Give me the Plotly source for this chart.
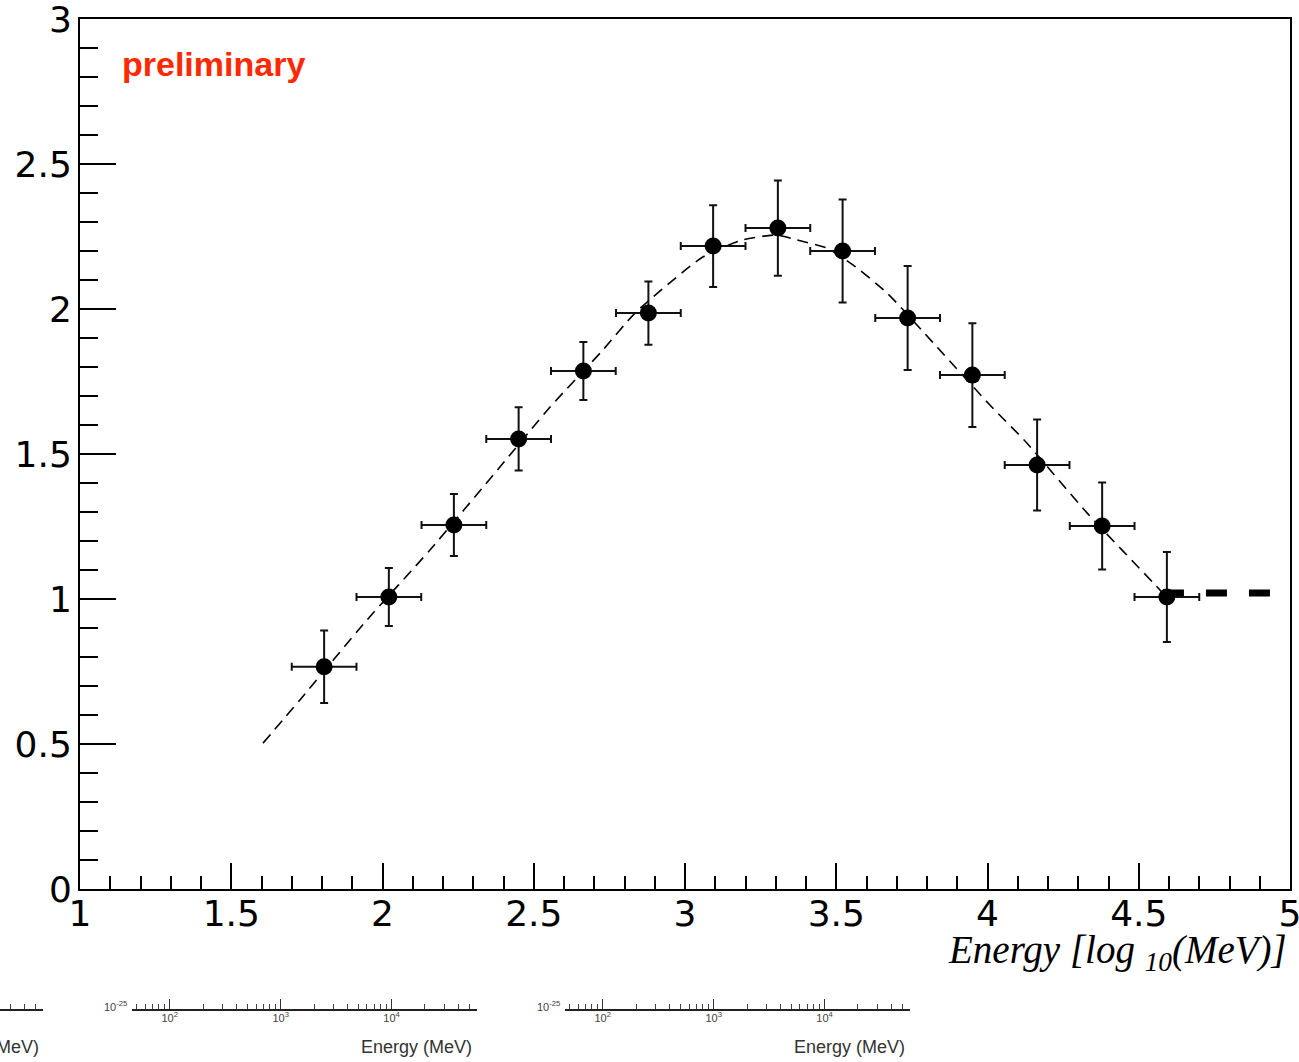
import plotly.graph_objects as go

# ---- data ----
energy_log = [1.807, 2.021, 2.236, 2.450, 2.664, 2.879, 3.093, 3.307, 3.521, 3.736, 3.950, 4.164, 4.379, 4.593]
flux = [0.766, 1.007, 1.255, 1.552, 1.786, 1.986, 2.217, 2.279, 2.200, 1.969, 1.772, 1.462, 1.252, 1.007]
flux_err = [0.125, 0.100, 0.107, 0.109, 0.100, 0.109, 0.141, 0.164, 0.178, 0.179, 0.179, 0.157, 0.150, 0.155]
bin_halfwidth = [0.107] * 14

fit_x = [1.605, 1.727, 1.949, 2.157, 2.388, 2.554, 2.729, 2.835, 3.060, 3.190, 3.304, 3.370,
         3.469, 3.555, 3.668, 3.833, 4.008, 4.130, 4.329, 4.570, 4.595]
fit_y = [0.503, 0.652, 0.928, 1.169, 1.455, 1.662, 1.859, 1.986, 2.180, 2.238, 2.255, 2.238,
         2.210, 2.152, 2.055, 1.869, 1.669, 1.538, 1.297, 1.031, 1.000]

limit_x = [4.58, 5.0]
limit_y = [1.021, 1.021]

x_ticks = [1, 1.5, 2, 2.5, 3, 3.5, 4, 4.5, 5]
x_ticktext = ["1", "1.5", "2", "2.5", "3", "3.5", "4", "4.5", "5"]
y_ticks = [0, 0.5, 1, 1.5, 2, 2.5, 3]
y_ticktext = ["0", "0.5", "1", "1.5", "2", "2.5", "3"]

frag_major = [100, 1000, 10000]
frag_major_text = ["10<sup>2</sup>", "10<sup>3</sup>", "10<sup>4</sup>"]
frag_minor = [m * d for d in [10, 100, 1000, 10000] for m in range(2, 10)]

W, H = 1299, 1062
ML, MR, MT, MB = 0, 9, 19, 5
PW = W - ML - MR
PH = H - MT - MB

def px_x(p):
    return (p - ML) / PW

def px_y(p):
    return (H - MB - p) / PH

fig = go.Figure()

fig.add_trace(go.Scatter(
    x=fit_x, y=fit_y, mode="lines",
    line=dict(color="black", width=1.6, dash="11px,7px", shape="spline", smoothing=0.6),
    hoverinfo="skip", showlegend=False))

fig.add_trace(go.Scatter(
    x=limit_x, y=limit_y, mode="lines",
    line=dict(color="black", width=7, dash="21px,22px"),
    hoverinfo="skip", showlegend=False))

fig.add_trace(go.Scatter(
    x=energy_log, y=flux, mode="markers",
    marker=dict(color="black", size=17),
    error_y=dict(type="data", array=flux_err, color="#111", thickness=2, width=4),
    error_x=dict(type="data", array=bin_halfwidth, color="#111", thickness=2, width=4),
    showlegend=False))

axis_common = dict(showline=True, linewidth=2, linecolor="black", mirror=True,
                   showgrid=False, zeroline=False, ticks="inside", tickwidth=2,
                   tickcolor="black", automargin=False, ticklabeloverflow="allow",
                   tickfont=dict(family="DejaVu Sans", size=36, color="black"))

# fragment axes at the bottom (remnants of other plots)
frag_domains = {"x2": [px_x(132), px_x(477)], "x3": [px_x(565), px_x(910)], "x4": [0, px_x(43)]}
frag_ranges = {"x2": [1.66, 4.77], "x3": [1.66, 4.77], "x4": [4.38, 4.77]}

layout = dict(
    width=W, height=H,
    margin=dict(l=ML, r=MR, t=MT, b=MB, autoexpand=False),
    paper_bgcolor="white", plot_bgcolor="white",
    showlegend=False,
    xaxis=dict(range=[1, 5], domain=[px_x(80), 1.0], anchor="y",
               tickvals=x_ticks, ticktext=x_ticktext, ticklen=26, ticklabelstandoff=-8,
               minor=dict(ticks="inside", ticklen=13, tickwidth=2, tickcolor="black", dtick=0.1, tick0=0),
               **axis_common),
    yaxis=dict(range=[0, 3], domain=[px_y(889), 1.0], anchor="x",
               tickvals=y_ticks, ticktext=y_ticktext, ticklen=36, ticklabelstandoff=-1,
               minor=dict(ticks="inside", ticklen=18, tickwidth=2, tickcolor="black", dtick=0.1, tick0=0),
               **axis_common),
)

for i, key in enumerate(["x2", "x3", "x4"], start=2):
    ykey = "y%d" % i
    layout["xaxis%d" % i] = dict(
        type="log", range=frag_ranges[key], domain=frag_domains[key], anchor=ykey,
        showline=True, linewidth=1.5, linecolor="#222", showgrid=False, zeroline=False,
        ticks="inside", ticklen=10, tickwidth=1.2, tickcolor="#333", automargin=False,
        tickvals=frag_major, ticktext=frag_major_text, ticklabelstandoff=-2,
        tickfont=dict(family="Liberation Sans", size=11, color="#444"),
        minor=dict(ticks="inside", ticklen=5, tickwidth=1.2, tickcolor="#444", tickvals=frag_minor),
    )
    layout["yaxis%d" % i] = dict(domain=[px_y(1009), px_y(995)], anchor="x%d" % i,
                                 range=[0, 1], visible=False, automargin=False)

fig.update_layout(**layout)

# invisible dummy traces so the fragment axes are drawn
for i in [2, 3, 4]:
    fig.add_trace(go.Scatter(x=[1e5], y=[-1], xaxis="x%d" % i, yaxis="y%d" % i,
                             mode="markers", marker=dict(opacity=0), hoverinfo="skip",
                             showlegend=False))

frag_font = dict(family="Liberation Sans", size=18, color="#333")
annotations = [
    dict(text="preliminary", x=1.132, y=2.845, xref="x", yref="y",
         xanchor="left", yanchor="middle", showarrow=False,
         font=dict(family="Liberation Sans", size=34, color="rgb(255,40,0)", weight="bold")),
    dict(text="<i>Energy [log <sub>10</sub>(MeV)]</i>", x=px_x(1289), y=px_y(926),
         xref="paper", yref="paper", xanchor="right", yanchor="top", showarrow=False,
         font=dict(family="Liberation Serif", size=39, color="black")),
    dict(text="10<sup>-25</sup>", x=px_x(129), y=px_y(1006), xref="paper", yref="paper",
         xanchor="right", yanchor="middle", showarrow=False,
         font=dict(family="Liberation Sans", size=11, color="#444")),
    dict(text="10<sup>-25</sup>", x=px_x(562), y=px_y(1006), xref="paper", yref="paper",
         xanchor="right", yanchor="middle", showarrow=False,
         font=dict(family="Liberation Sans", size=11, color="#444")),
    dict(text="Energy (MeV)", x=px_x(474), y=px_y(1047), xref="paper", yref="paper",
         xanchor="right", yanchor="middle", showarrow=False, font=frag_font),
    dict(text="Energy (MeV)", x=px_x(907), y=px_y(1047), xref="paper", yref="paper",
         xanchor="right", yanchor="middle", showarrow=False, font=frag_font),
    dict(text="Energy (MeV)", x=px_x(41), y=px_y(1047), xref="paper", yref="paper",
         xanchor="right", yanchor="middle", showarrow=False, font=frag_font),
]
fig.update_layout(annotations=annotations)

fig.write_html("out.html")
